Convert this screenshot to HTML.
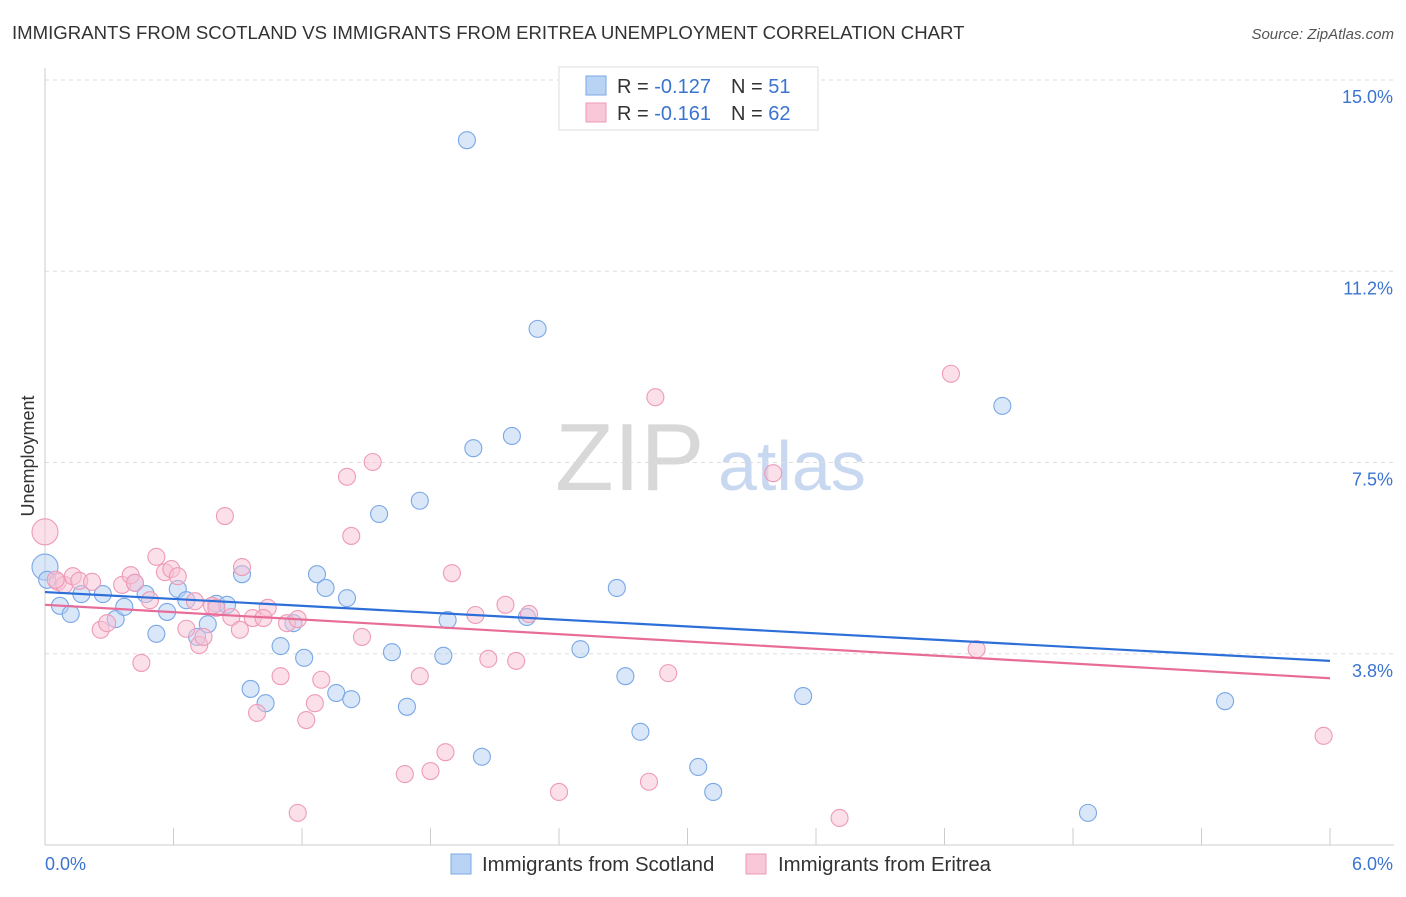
<!DOCTYPE html>
<html><head><meta charset="utf-8"><style>
body{margin:0;background:#fff;font-family:"Liberation Sans",sans-serif;}
svg text{font-family:"Liberation Sans",sans-serif;}
</style></head><body>
<svg id="chart" width="1406" height="892">
<text x="12" y="39" font-size="18.6" fill="#333">IMMIGRANTS FROM SCOTLAND VS IMMIGRANTS FROM ERITREA UNEMPLOYMENT CORRELATION CHART</text>
<text x="1394" y="39" font-size="15" fill="#555" font-style="italic" text-anchor="end">Source: ZipAtlas.com</text>
<text x="34" y="456" font-size="18" fill="#333" text-anchor="middle" transform="rotate(-90 34 456)">Unemployment</text>
<text x="555" y="490" font-size="96" fill="#d8d8d8" font-family="Liberation Serif">ZIP</text>
<text x="718" y="490" font-size="70" fill="#c8d8f0">atlas</text>
<g id="grid"></g><g id="pts"></g><g id="lines"></g>
<g>
<rect x="559" y="67" width="259" height="63" fill="#fff" stroke="#ddd"/>
<rect x="586" y="76" width="20" height="19" fill="#b9d3f5" stroke="#7aa8e6"/>
<rect x="586" y="103" width="20" height="19" fill="#f9c8d8" stroke="#ee99b8"/>
<text x="617" y="93" font-size="20" fill="#333">R = <tspan fill="#3b74d0">-0.127</tspan></text>
<text x="731" y="93" font-size="20" fill="#333">N = <tspan fill="#3b74d0"> 51</tspan></text>
<text x="617" y="120" font-size="20" fill="#333">R = <tspan fill="#3b74d0"> -0.161</tspan></text>
<text x="731" y="120" font-size="20" fill="#333">N = <tspan fill="#3b74d0">62</tspan></text>
</g>
<g>
<rect x="451" y="854" width="20" height="20" fill="#b9d3f5" stroke="#7aa8e6"/>
<text x="482" y="871" font-size="20.4" fill="#333">Immigrants from Scotland</text>
<rect x="746" y="854" width="20" height="20" fill="#f9c8d8" stroke="#ee99b8"/>
<text x="778" y="871" font-size="20.4" fill="#333">Immigrants from Eritrea</text>
</g>
</svg>
<script>
const yTicks=[15.0,11.25,7.5,3.75];
const yTickLabels=["15.0%","11.2%","7.5%","3.8%"];
const xTickLabels=["0.0%","6.0%"];
const scotX=[0.00,0.07,0.12,0.17,0.27,0.33,0.37,0.42,0.47,0.52,0.57,0.62,0.66,0.71,0.76,0.80,0.85,0.92,0.96,1.03,1.10,1.16,1.21,1.27,1.31,1.36,1.41,1.43,1.56,1.62,1.69,1.75,1.86,1.88,1.97,2.00,2.04,2.18,2.25,2.30,2.50,2.67,2.71,2.78,3.05,3.12,3.54,4.47,4.87,5.51,0.01];
const scotY=[5.45,4.69,4.53,4.92,4.92,4.43,4.67,5.14,4.92,4.14,4.57,5.02,4.80,4.08,4.33,4.73,4.71,5.31,3.06,2.78,3.90,4.35,3.67,5.31,5.04,2.98,4.84,2.86,6.49,3.78,2.71,6.75,3.71,4.41,13.82,7.78,1.73,8.02,4.47,10.12,3.84,5.04,3.31,2.22,1.53,1.04,2.92,8.61,0.63,2.82,5.20];
const eriX=[0.00,0.06,0.09,0.13,0.16,0.22,0.26,0.29,0.36,0.40,0.45,0.49,0.52,0.56,0.59,0.62,0.66,0.70,0.72,0.74,0.78,0.84,0.87,0.91,0.92,0.97,0.99,1.04,1.10,1.13,1.18,1.22,1.26,1.29,1.41,1.43,1.48,1.53,1.68,1.75,1.80,1.87,1.90,2.01,2.07,2.15,2.20,2.26,2.40,2.82,2.85,2.91,3.40,3.71,4.23,4.35,5.97,1.18,0.42,0.80,1.02,0.05];
const eriY=[6.14,5.16,5.10,5.27,5.18,5.16,4.22,4.35,5.10,5.29,3.57,4.80,5.65,5.35,5.41,5.27,4.24,4.78,3.92,4.08,4.69,6.45,4.47,4.22,5.45,4.45,2.59,4.65,3.31,4.35,4.43,2.45,2.78,3.24,7.22,6.06,4.08,7.51,1.39,3.31,1.45,1.82,5.33,4.51,3.65,4.71,3.61,4.53,1.04,1.24,8.78,3.37,7.29,0.53,9.24,3.84,2.14,0.63,5.14,4.65,4.45,5.20];
const scotTrend=[4.96,3.61];
const eriTrend=[4.71,3.27];
const NS="http://www.w3.org/2000/svg";
const X=v=>45+v*214.17, Y=v=>80+(15-v)*51;
function mk(t,a,p){const e=document.createElementNS(NS,t);for(const k in a)e.setAttribute(k,a[k]);p.appendChild(e);return e;}
const grid=document.getElementById('grid');
yTicks.forEach((t,i)=>{
 const l=mk('line',{x1:45,x2:1394,y1:Y(t),y2:Y(t),stroke:'#ddd','stroke-dasharray':'4 4'},grid);
 
 
 const tx=mk('text',{x:1393,y:Y(t)+23,'font-size':18,fill:'#3b74d0','text-anchor':'end'},grid);
 tx.textContent=yTickLabels[i];
 
 
});
mk('line',{x1:45,x2:45,y1:68,y2:845,stroke:'#ccc'},grid);
mk('line',{x1:45,x2:1394,y1:845,y2:845,stroke:'#ccc'},grid);
for(let i=0;i<=10;i++){const l=mk('line',{x1:X(i*0.6),x2:X(i*0.6),y1:828,y2:845,stroke:'#ccc'},grid);
 
 }
[[45,'start',0],[1393,'end',1]].forEach(([x,a,i])=>{const t=mk('text',{x:x,y:870,'font-size':18,fill:'#3b74d0','text-anchor':a},grid);t.textContent=xTickLabels[i];
 
 });
const pts=document.getElementById('pts');
function dots(xs,ys,fill,stroke,name){xs.forEach((x,i)=>{const c=mk('circle',{cx:X(x),cy:Y(ys[i]),r:(i==0?13:8.5),fill:fill,'fill-opacity':0.5,stroke:stroke,'stroke-width':1.1},pts);
 
 });}
dots(scotX,scotY,'#b3cff3','#7aa8e6','scotland-point');
dots(eriX,eriY,'#f8c2d4','#ee9ab8','eritrea-point');
const lines=document.getElementById('lines');
const l1=mk('line',{x1:X(0),y1:Y(scotTrend[0]),x2:X(6),y2:Y(scotTrend[1]),stroke:'#2c6fd8','stroke-width':2.2},lines);


const l2=mk('line',{x1:X(0),y1:Y(eriTrend[0]),x2:X(6),y2:Y(eriTrend[1]),stroke:'#e86c98','stroke-width':2.2},lines);


</script>
</body></html>
